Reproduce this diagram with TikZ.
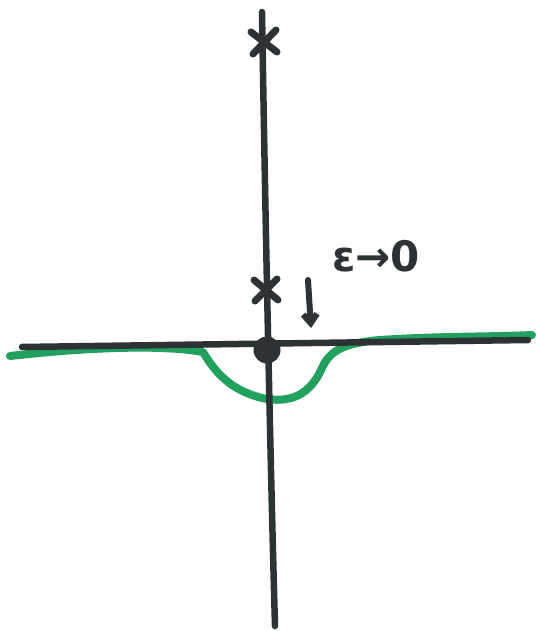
\documentclass[tikz,border=0pt]{standalone}
\usepackage{fontspec}
\newfontfamily\labfont{DejaVu Sans}
\usetikzlibrary{arrows.meta,calc}
\definecolor{pen}{RGB}{45,50,52}
\definecolor{marker}{RGB}{10,150,75}
\tikzset{
  axis/.style={draw=pen, line width=6.5pt, line cap=round, line join=round},
  greenline/.style={draw=marker, line width=8pt, line cap=round, line join=round, opacity=0.9},
  starmark/.style={draw=pen, line width=7pt, line cap=round},
  lab/.style={text=pen, font=\labfont\bfseries\fontsize{42}{48}\selectfont, inner sep=0pt}
}
\begin{document}
\begin{tikzpicture}[x=1pt,y=-1pt]
\useasboundingbox (0,0) rectangle (535,631);
% coordinates
\coordinate (vtop) at (262,12);
\coordinate (vbot) at (275,626);
\coordinate (hl) at (22,347);
\coordinate (hr) at (528,340);
\coordinate (s1) at (264,42);
\coordinate (s2) at (266,290);
\coordinate (atop) at (308,280);
\coordinate (abot) at (311,328);
% green contour
\draw[greenline] (10,356) .. controls (80,348) and (160,344) .. (203,352)
  .. controls (215,372) and (230,390) .. (262,398)
  .. controls (290,404) and (310,395) .. (322,368)
  .. controls (330,350) and (345,343) .. (380,340)
  .. controls (440,336) and (490,337) .. (532,335);
% axes
\draw[axis] (hl) -- (hr);
\draw[axis] (vtop) .. controls (265,200) and (270,450) .. (vbot);
% origin dot
\node[circle, fill=pen, minimum size=27pt, inner sep=0pt] (o) at (267,350) {};
% stars
\draw[starmark] ($(s1)+(-13,-10)$) -- ($(s1)+(13,10)$);
\draw[starmark] ($(s1)+(-11,12)$) -- ($(s1)+(12,-12)$);
\draw[starmark] ($(s2)+(-12,-10)$) -- ($(s2)+(12,10)$);
\draw[starmark] ($(s2)+(-11,11)$) -- ($(s2)+(11,-11)$);
% arrow
\draw[draw=pen, line width=6pt, line cap=round, -{Straight Barb[length=9pt,width=14pt]}] (atop) -- (abot);
% label
\node[lab] (eps) at (376,256) {ε→0};
\end{tikzpicture}
\end{document}
